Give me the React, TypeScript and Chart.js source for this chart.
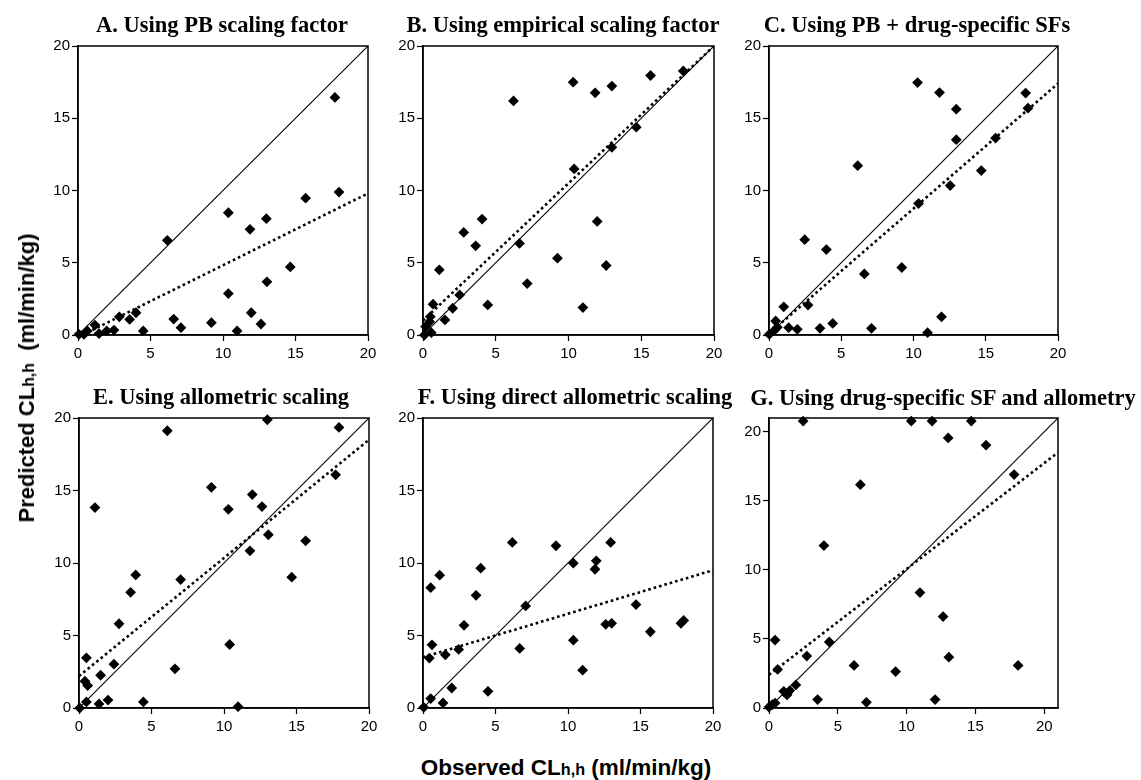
import React, { useEffect, useRef } from "react";
import { Chart, registerables } from "chart.js";

Chart.register(...registerables);

// ---------- Data (observed x, predicted y) ----------
const obsA = [17.72, 18.0, 15.7, 10.37, 12.99, 11.86, 6.16, 14.64, 13.03, 10.37, 11.95, 4.0, 2.85, 3.56, 6.6, 7.1, 9.2, 12.62, 10.97, 4.5, 1.17, 1.45, 1.98, 2.48, 0.64, 0.41, 0.07];
const predA = [16.44, 9.89, 9.47, 8.46, 8.05, 7.31, 6.55, 4.71, 3.68, 2.87, 1.54, 1.54, 1.26, 1.08, 1.1, 0.51, 0.85, 0.76, 0.28, 0.28, 0.69, 0.1, 0.28, 0.34, 0.28, 0.05, 0.05];

const obsB = [17.89, 15.64, 10.32, 12.98, 11.83, 6.22, 14.66, 12.98, 10.39, 11.97, 4.06, 2.8, 3.62, 6.63, 9.24, 12.59, 1.12, 7.16, 2.52, 0.69, 4.45, 10.99, 2.04, 1.51, 0.5, 0.46, 0.18, 0.57, 0.1];
const predB = [18.27, 17.96, 17.5, 17.23, 16.76, 16.2, 14.38, 12.99, 11.49, 7.86, 8.02, 7.1, 6.17, 6.34, 5.32, 4.81, 4.51, 3.56, 2.77, 2.13, 2.08, 1.9, 1.85, 1.04, 1.27, 0.92, 0.58, 0.16, 0.0];

const obsC = [10.28, 11.8, 17.76, 17.92, 12.96, 12.96, 15.68, 6.14, 14.69, 12.54, 10.35, 2.47, 3.97, 9.19, 6.6, 1.02, 2.7, 11.94, 0.46, 1.36, 1.96, 3.53, 4.41, 7.09, 10.97, 0.58, 0.35, 0.02];
const predC = [17.47, 16.78, 16.74, 15.7, 15.63, 13.52, 13.63, 11.72, 11.38, 10.34, 9.1, 6.6, 5.91, 4.67, 4.23, 1.95, 2.07, 1.26, 0.97, 0.51, 0.39, 0.46, 0.8, 0.46, 0.16, 0.53, 0.3, 0.05];

const obsE = [12.99, 6.09, 17.93, 17.7, 9.13, 11.95, 1.1, 10.3, 12.62, 13.06, 15.63, 11.79, 14.67, 3.91, 7.01, 3.56, 2.76, 10.39, 0.51, 2.41, 6.62, 0.41, 0.6, 1.49, 2.0, 1.38, 0.51, 4.44, 10.97, 0.05];
const predE = [19.88, 19.12, 19.35, 16.08, 15.22, 14.72, 13.82, 13.7, 13.89, 11.95, 11.53, 10.84, 9.02, 9.18, 8.86, 7.98, 5.81, 4.38, 3.46, 3.02, 2.7, 1.85, 1.55, 2.26, 0.55, 0.28, 0.42, 0.42, 0.09, 0.0];

const obsF = [6.16, 12.94, 9.17, 11.95, 10.37, 11.86, 3.98, 1.15, 0.53, 3.66, 7.08, 14.69, 2.83, 12.6, 13.01, 17.79, 17.98, 15.68, 0.62, 10.37, 6.67, 2.46, 1.54, 0.44, 11.01, 1.98, 4.48, 0.53, 1.38, 0.05];
const predF = [11.42, 11.42, 11.19, 10.15, 9.99, 9.57, 9.64, 9.16, 8.3, 7.77, 7.04, 7.13, 5.7, 5.77, 5.84, 5.84, 6.04, 5.26, 4.36, 4.68, 4.11, 4.04, 3.67, 3.44, 2.61, 1.38, 1.15, 0.65, 0.35, 0.05];

const obsG = [2.48, 10.34, 11.85, 14.7, 13.02, 15.77, 17.81, 6.64, 3.99, 10.97, 12.65, 0.44, 4.38, 2.75, 13.07, 6.18, 18.1, 9.2, 0.63, 1.95, 1.07, 1.51, 1.31, 3.53, 12.07, 7.08, 0.44, 0.24, 0.0];
const predG = [20.78, 20.78, 20.78, 20.78, 19.56, 19.03, 16.9, 16.17, 11.76, 8.36, 6.62, 4.92, 4.78, 3.76, 3.68, 3.08, 3.08, 2.64, 2.79, 1.67, 1.21, 1.26, 0.95, 0.61, 0.61, 0.41, 0.36, 0.24, 0.07];

// Line of identity and regression (dotted) line end points
const identity20 = [0, 20];
const identity21 = [0, 21];
const regXA = [0.3, 20], regYA = [0.0, 9.8];
const regXB = [0, 20], regYB = [1.0, 20];
const regXC = [0, 20], regYC = [0.1, 17.4];
const regXE = [0, 20], regYE = [2.2, 18.5];
const regXF = [0, 20], regYF = [3.5, 9.5];
const regXG = [0, 21], regYG = [2.4, 18.5];

const tickValues = [0, 5, 10, 15, 20];

const titles = [
  "A. Using PB scaling factor",
  "B. Using empirical scaling factor",
  "C. Using PB + drug-specific SFs",
  "E. Using allometric scaling",
  "F. Using direct allometric scaling",
  "G. Using drug-specific SF and allometry",
];

// ---------- Layout ----------
const Y_AXIS_W = 40;
const PAD_T = 12;
const PAD_R = 14;
const X_AXIS_H = 30;

type Panel = {
  title: string;
  titleX: number;
  titleY: number;
  left: number;
  top: number;
  w: number;
  h: number;
  obs: number[];
  pred: number[];
  idLine: number[];
  regX: number[];
  regY: number[];
  max: number;
};

const panels: Panel[] = [
  { title: titles[0], titleX: 222, titleY: 25, left: 78, top: 46, w: 290, h: 289, obs: obsA, pred: predA, idLine: identity20, regX: regXA, regY: regYA, max: 20 },
  { title: titles[1], titleX: 563, titleY: 25, left: 423, top: 46, w: 291, h: 289, obs: obsB, pred: predB, idLine: identity20, regX: regXB, regY: regYB, max: 20 },
  { title: titles[2], titleX: 917, titleY: 25, left: 769, top: 46, w: 289, h: 289, obs: obsC, pred: predC, idLine: identity20, regX: regXC, regY: regYC, max: 20 },
  { title: titles[3], titleX: 221, titleY: 397, left: 79, top: 418, w: 290, h: 290, obs: obsE, pred: predE, idLine: identity20, regX: regXE, regY: regYE, max: 20 },
  { title: titles[4], titleX: 575, titleY: 397, left: 423, top: 418, w: 290, h: 290, obs: obsF, pred: predF, idLine: identity20, regX: regXF, regY: regYF, max: 20 },
  { title: titles[5], titleX: 943, titleY: 398, left: 769, top: 418, w: 289, h: 290, obs: obsG, pred: predG, idLine: identity21, regX: regXG, regY: regYG, max: 21 },
];

const FONT_SANS = "'Liberation Sans', Arial, Helvetica, sans-serif";
const FONT_SERIF = "'Liberation Serif', 'Times New Roman', Times, serif";

const framePlugin = {
  id: "frame",
  afterDatasetsDraw(chart: any) {
    const { ctx, chartArea } = chart;
    ctx.save();
    ctx.strokeStyle = "#000";
    ctx.lineWidth = 1.5;
    ctx.strokeRect(chartArea.left, chartArea.top, chartArea.right - chartArea.left, chartArea.bottom - chartArea.top);
    ctx.restore();
  },
};

function ScatterPanel({ p }: { p: Panel }) {
  const ref = useRef<HTMLCanvasElement | null>(null);
  useEffect(() => {
    if (!ref.current) return;
    const points = p.obs.map((x, i) => ({ x, y: p.pred[i] }));
    const idPts = p.idLine.map((v) => ({ x: v, y: v }));
    const regPts = p.regX.map((x, i) => ({ x, y: p.regY[i] }));
    const axisCommon = (isX: boolean) => ({
      type: "linear" as const,
      min: 0,
      max: p.max,
      afterBuildTicks: (scale: any) => {
        scale.ticks = tickValues.map((v) => ({ value: v }));
      },
      ticks: {
        color: "#000",
        font: { family: FONT_SANS, size: 15 },
        padding: isX ? 4 : 2,
      },
      grid: {
        display: true,
        drawOnChartArea: false,
        drawTicks: true,
        tickLength: 6,
        tickColor: "#000",
        tickWidth: 1.2,
        color: "#000",
      },
      border: { display: true, color: "#000", width: 1.5 },
      afterFit: (scale: any) => {
        if (isX) scale.height = X_AXIS_H;
        else scale.width = Y_AXIS_W;
      },
    });
    const chart = new Chart(ref.current, {
      type: "scatter",
      data: {
        datasets: [
          {
            data: regPts,
            showLine: true,
            borderColor: "#000",
            borderWidth: 2.6,
            borderDash: [2.6, 3],
            pointRadius: 0,
            fill: false,
          },
          {
            data: idPts,
            showLine: true,
            borderColor: "#000",
            borderWidth: 1.1,
            pointRadius: 0,
            fill: false,
          },
          {
            data: points,
            pointStyle: "rectRot",
            pointRadius: 5.4,
            pointBackgroundColor: "#000",
            pointBorderColor: "#000",
            pointBorderWidth: 0,
            showLine: false,
            clip: false,
          } as any,
        ],
      },
      options: {
        animation: false,
        responsive: false,
        maintainAspectRatio: false,
        layout: { padding: { top: PAD_T, right: PAD_R, left: 0, bottom: 0 } },
        plugins: { legend: { display: false }, tooltip: { enabled: false }, title: { display: false } },
        scales: { x: axisCommon(true), y: axisCommon(false) } as any,
      },
      plugins: [framePlugin],
    });
    return () => chart.destroy();
  }, [p]);
  const cw = p.w + Y_AXIS_W + PAD_R;
  const ch = p.h + PAD_T + X_AXIS_H;
  return (
    <>
      <canvas
        ref={ref}
        width={cw}
        height={ch}
        style={{ position: "absolute", left: p.left - Y_AXIS_W, top: p.top - PAD_T, width: cw, height: ch }}
      />
      <div
        style={{
          position: "absolute",
          left: p.titleX,
          top: p.titleY - 14,
          transform: "translateX(-50%)",
          whiteSpace: "nowrap",
          fontFamily: FONT_SERIF,
          fontWeight: "bold",
          fontSize: 22.5,
          lineHeight: "28px",
          color: "#000",
        }}
      >
        {p.title}
      </div>
    </>
  );
}

export default function App() {
  return (
    <div style={{ position: "absolute", left: 0, top: 0, width: 1141, height: 780, background: "#fff", overflow: "hidden" }}>
      {panels.map((p, i) => (
        <ScatterPanel key={i} p={p} />
      ))}
      <div
        style={{
          position: "absolute",
          left: 27,
          top: 378,
          transform: "translate(-50%, -50%) rotate(-90deg)",
          whiteSpace: "nowrap",
          fontFamily: FONT_SANS,
          fontWeight: "bold",
          fontSize: 22,
          color: "#000",
        }}
      >
        Predicted CL<span style={{ fontSize: "0.72em" }}>h,h</span>&nbsp; (ml/min/kg)
      </div>
      <div
        style={{
          position: "absolute",
          left: 566,
          top: 768,
          transform: "translate(-50%, -50%)",
          whiteSpace: "nowrap",
          fontFamily: FONT_SANS,
          fontWeight: "bold",
          fontSize: 22.5,
          color: "#000",
        }}
      >
        Observed CL<span style={{ fontSize: "0.72em" }}>h,h</span> (ml/min/kg)
      </div>
    </div>
  );
}
